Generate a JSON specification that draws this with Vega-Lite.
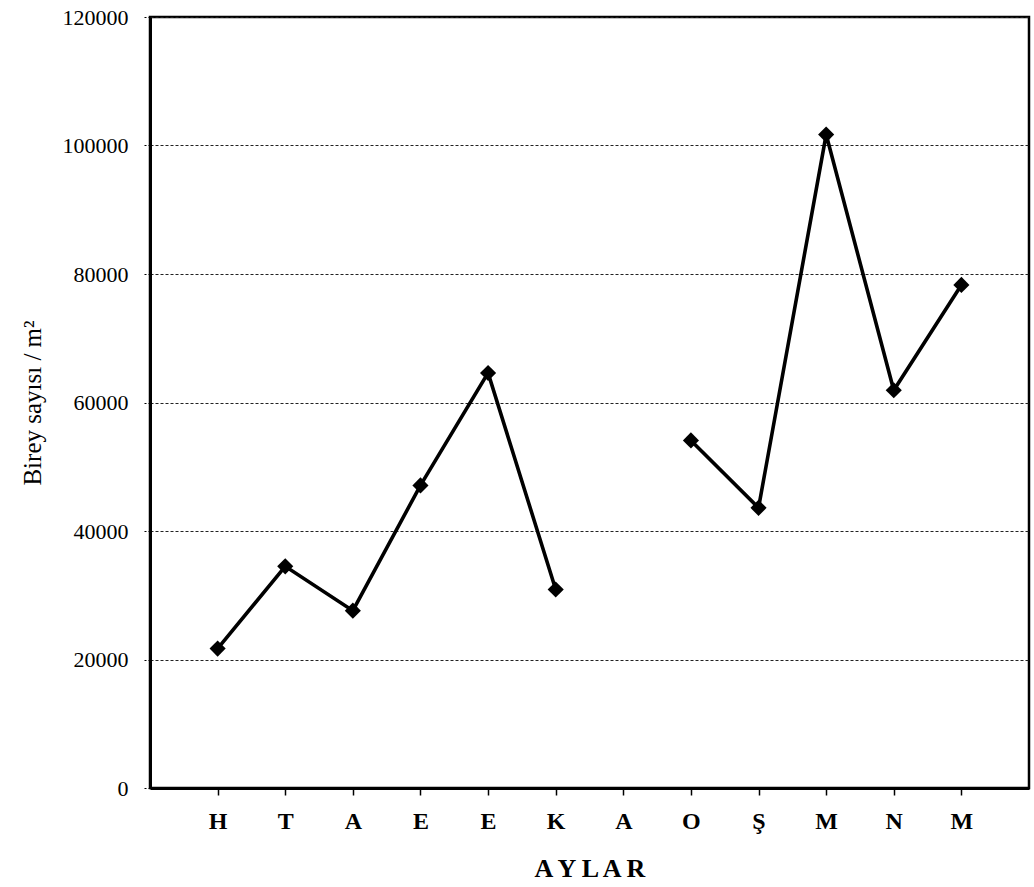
{
  "$schema": "https://vega.github.io/schema/vega-lite/v6.json",
  "width": 879,
  "height": 771,
  "autosize": "none",
  "padding": {"left": 150, "top": 17, "right": 5, "bottom": 99},
  "background": "white",
  "config": {
    "font": "Liberation Serif",
    "view": {"stroke": "black", "strokeWidth": 2.5}
  },
  "data": {
    "values": [
      {"ay": "Haziran", "birey": 21700},
      {"ay": "Temmuz", "birey": 34500},
      {"ay": "Ağustos", "birey": 27600},
      {"ay": "Eylül", "birey": 47100},
      {"ay": "Ekim", "birey": 64600},
      {"ay": "Kasım", "birey": 30900},
      {"ay": "Aralık", "birey": null},
      {"ay": "Ocak", "birey": 54100},
      {"ay": "Şubat", "birey": 43600},
      {"ay": "Mart", "birey": 101700},
      {"ay": "Nisan", "birey": 61900},
      {"ay": "Mayıs", "birey": 78300}
    ]
  },
  "encoding": {
    "x": {
      "field": "ay",
      "type": "ordinal",
      "sort": null,
      "scale": {
        "type": "point",
        "padding": 1,
        "domain": ["Haziran", "Temmuz", "Ağustos", "Eylül", "Ekim", "Kasım", "Aralık", "Ocak", "Şubat", "Mart", "Nisan", "Mayıs"]
      },
      "axis": {
        "title": "A Y L A R",
        "titleFont": "Liberation Serif",
        "titleFontSize": 26,
        "titleFontWeight": "bold",
        "titleColor": "black",
        "titlePadding": 22,
        "labelExpr": "substring(datum.value, 0, 1)",
        "labelAngle": 0,
        "labelFont": "Liberation Serif",
        "labelFontSize": 24,
        "labelFontWeight": "bold",
        "labelColor": "black",
        "labelPadding": 14,
        "domainColor": "black",
        "domainWidth": 3,
        "tickColor": "black",
        "tickWidth": 1.5,
        "tickSize": 7,
        "grid": false
      }
    },
    "y": {
      "field": "birey",
      "type": "quantitative",
      "scale": {"domain": [0, 120000], "nice": false},
      "axis": {
        "title": "Birey sayısı / m²",
        "titleFont": "Liberation Serif",
        "titleFontSize": 25,
        "titleFontWeight": "normal",
        "titleColor": "black",
        "titlePadding": 17,
        "values": [0, 20000, 40000, 60000, 80000, 100000, 120000],
        "format": "d",
        "labelFont": "Liberation Serif",
        "labelFontSize": 22,
        "labelColor": "black",
        "labelPadding": 15,
        "domainColor": "black",
        "domainWidth": 3,
        "tickColor": "black",
        "tickSize": 7,
        "tickDash": [2, 2],
        "grid": true,
        "gridColor": "#222222",
        "gridWidth": 1,
        "gridDash": [3, 2]
      }
    }
  },
  "layer": [
    {
      "mark": {
        "type": "line",
        "color": "black",
        "strokeWidth": 3.6,
        "invalid": "break-paths-show-domains"
      }
    },
    {
      "mark": {
        "type": "point",
        "shape": "diamond",
        "filled": true,
        "size": 260,
        "color": "black",
        "opacity": 1
      }
    }
  ]
}
